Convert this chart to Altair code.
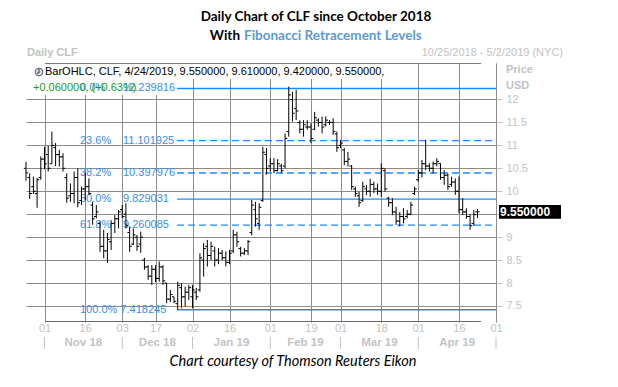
import altair as alt
import pandas as pd

# ---------------- data ----------------
dates = ["2018-10-25","2018-10-26","2018-10-29","2018-10-30","2018-10-31","2018-11-01","2018-11-02","2018-11-05","2018-11-06","2018-11-07",
         "2018-11-08","2018-11-09","2018-11-12","2018-11-13","2018-11-14","2018-11-15","2018-11-16","2018-11-19","2018-11-20","2018-11-21",
         "2018-11-23","2018-11-26","2018-11-27","2018-11-28","2018-11-29","2018-11-30","2018-12-03","2018-12-04","2018-12-06","2018-12-07",
         "2018-12-10","2018-12-11","2018-12-12","2018-12-13","2018-12-14","2018-12-17","2018-12-18","2018-12-19","2018-12-20","2018-12-21",
         "2018-12-24","2018-12-26","2018-12-27","2018-12-28","2018-12-31","2019-01-02","2019-01-03","2019-01-04","2019-01-07","2019-01-08",
         "2019-01-09","2019-01-10","2019-01-11","2019-01-14","2019-01-15","2019-01-16","2019-01-17","2019-01-18","2019-01-22","2019-01-23",
         "2019-01-24","2019-01-25","2019-01-28","2019-01-29","2019-01-30","2019-01-31","2019-02-01","2019-02-04","2019-02-05","2019-02-06",
         "2019-02-07","2019-02-08","2019-02-11","2019-02-12","2019-02-13","2019-02-14","2019-02-15","2019-02-19","2019-02-20","2019-02-21",
         "2019-02-22","2019-02-25","2019-02-26","2019-02-27","2019-02-28","2019-03-01","2019-03-04","2019-03-05","2019-03-06","2019-03-07",
         "2019-03-08","2019-03-11","2019-03-12","2019-03-13","2019-03-14","2019-03-15","2019-03-18","2019-03-19","2019-03-20","2019-03-21",
         "2019-03-22","2019-03-25","2019-03-26","2019-03-27","2019-03-28","2019-03-29","2019-04-01","2019-04-02","2019-04-03","2019-04-04",
         "2019-04-05","2019-04-08","2019-04-09","2019-04-10","2019-04-11","2019-04-12","2019-04-15","2019-04-16","2019-04-17","2019-04-18",
         "2019-04-22","2019-04-23","2019-04-24"]
future_days = ["2019-04-25","2019-04-26","2019-04-29","2019-04-30","2019-05-01"]

highs = [10.64,10.39,10.32,10.29,10.76,10.97,10.99,11.30,11.05,10.90,
         10.83,10.39,10.17,10.43,10.50,10.10,10.41,10.28,9.77,9.70,
         9.34,9.16,9.09,9.37,9.48,9.59,9.70,9.74,9.23,9.19,
         9.05,9.12,8.55,8.39,8.39,8.39,8.47,8.39,8.00,7.85,
         7.70,8.03,8.00,7.92,7.96,7.96,7.89,8.65,8.87,8.94,
         8.90,8.79,8.76,8.72,8.69,8.72,9.16,9.12,8.79,8.76,
         8.94,9.81,9.77,9.74,10.97,10.94,10.72,10.72,10.70,10.60,
         11.26,12.28,12.17,12.21,11.55,11.55,11.55,11.48,11.73,11.59,
         11.63,11.63,11.55,11.59,11.30,11.12,10.94,10.86,10.57,10.10,
         9.99,10.21,10.14,10.27,10.21,10.17,10.61,10.50,9.88,9.85,
         9.66,9.55,9.63,9.59,9.77,10.10,10.46,10.68,11.12,10.61,
         10.65,10.72,10.61,10.46,10.39,10.32,10.28,10.32,9.85,9.63,
         9.50,9.59,9.61]
lows = [10.23,9.83,9.94,9.64,10.25,10.48,10.43,10.60,10.55,10.54,
        10.43,9.75,9.77,9.74,9.65,9.70,9.81,9.92,9.27,9.41,
        8.68,8.54,8.44,8.72,9.09,9.19,9.41,9.19,8.68,8.83,
        8.70,8.66,8.29,8.07,7.96,8.02,8.03,7.96,7.56,7.59,
        7.56,7.42,7.45,7.49,7.63,7.45,7.63,7.81,8.14,8.36,
        8.50,8.36,8.41,8.50,8.36,8.41,8.65,8.79,8.58,8.61,
        8.61,9.04,9.23,9.16,9.77,10.36,10.43,10.39,10.43,10.40,
        10.50,11.19,11.52,11.55,11.26,11.19,11.34,11.05,11.34,11.41,
        11.26,11.41,11.44,11.23,10.86,10.94,10.57,10.54,10.03,9.88,
        9.66,9.77,9.92,9.88,9.96,9.92,9.88,9.99,9.66,9.48,
        9.27,9.23,9.30,9.41,9.48,9.92,10.21,10.30,10.46,10.43,
        10.39,10.54,10.25,10.14,10.03,10.10,9.92,9.52,9.48,9.40,
        9.16,9.25,9.42]
opens = [10.50,10.30,10.10,9.95,10.30,10.70,10.80,10.60,10.95,10.80,
         10.75,10.30,9.90,9.95,10.30,9.80,10.05,10.10,9.70,9.45,
         9.30,8.80,8.70,8.90,9.30,9.40,9.60,9.50,9.10,8.85,
         9.00,8.85,8.50,8.35,8.15,8.30,8.10,8.35,8.00,7.65,
         7.70,7.55,7.90,7.70,7.80,7.70,7.80,7.85,8.50,8.80,
         8.60,8.70,8.50,8.65,8.55,8.45,8.70,9.05,8.75,8.65,
         8.70,9.10,9.60,9.30,9.80,10.80,10.55,10.60,10.45,10.55,
         10.55,11.30,12.00,11.80,11.50,11.35,11.40,11.40,11.35,11.55,
         11.50,11.45,11.50,11.50,11.25,11.00,10.90,10.65,10.55,10.05,
         9.90,9.80,10.05,10.00,10.15,10.05,10.00,10.45,9.85,9.75,
         9.55,9.35,9.45,9.45,9.50,9.95,10.25,10.40,10.60,10.55,
         10.50,10.60,10.60,10.30,10.35,10.15,10.20,10.00,9.60,9.55,
         9.45,9.30,9.55]
closes = [10.40,9.95,10.00,10.25,10.70,10.60,10.50,11.00,10.80,10.75,
          10.50,9.85,9.95,10.30,9.75,10.05,10.10,9.95,9.40,9.55,
          8.80,8.70,8.95,9.30,9.40,9.55,9.45,9.25,8.80,9.05,
          8.80,9.00,8.35,8.15,8.30,8.10,8.35,8.05,7.65,7.75,
          7.60,7.95,7.70,7.80,7.90,7.85,7.70,8.55,8.75,8.60,
          8.80,8.50,8.65,8.55,8.45,8.65,9.05,8.90,8.65,8.70,
          8.90,9.70,9.40,9.65,10.85,10.50,10.60,10.45,10.60,10.45,
          11.15,12.10,11.70,11.75,11.35,11.45,11.40,11.15,11.60,11.50,
          11.40,11.55,11.50,11.30,10.95,11.05,10.65,10.70,10.10,9.95,
          9.75,10.10,10.00,10.15,10.05,10.00,10.50,10.05,9.75,9.55,
          9.35,9.45,9.40,9.50,9.70,10.05,10.40,10.60,10.55,10.50,
          10.60,10.65,10.30,10.35,10.10,10.20,10.00,9.60,9.55,9.45,
          9.25,9.49,9.55]

tick_dates = ["2018-11-01","2018-11-16","2018-12-03","2018-12-17","2019-01-02","2019-01-16",
              "2019-02-01","2019-02-19","2019-03-01","2019-03-18","2019-04-01","2019-04-16","2019-05-01"]
tick_labels = ["01","16","03","17","02","16","01","19","01","18","01","16","01"]
month_starts = ["2018-11-01","2018-12-03","2019-01-02","2019-02-01","2019-03-01","2019-04-01"]
month_ends = ["2018-12-03","2019-01-02","2019-02-01","2019-03-01","2019-04-01","2019-05-01"]
month_labels = ["Nov 18","Dec 18","Jan 19","Feb 19","Mar 19","Apr 19"]

fib_pct = ["0.0%","23.6%","38.2%","50.0%","61.8%","100.0%"]
fib_val = [12.239816,11.101925,10.397976,9.829031,9.260085,7.418245]
fib_dashed = [False,True,True,False,True,False]

price_ticks = [7.5,8,8.5,9,9.5,10,10.5,11,11.5,12]

# ---------------- derived tables ----------------
all_days = dates + future_days
tick_idx = [all_days.index(d) for d in tick_dates]
x_max = all_days.index("2019-05-01")

df = pd.DataFrame({"i": list(range(len(dates))), "open": opens, "high": highs,
                   "low": lows, "close": closes})
months = pd.DataFrame({"s": [all_days.index(d) for d in month_starts],
                       "e": [all_days.index(d) for d in month_ends],
                       "lab": month_labels})
seps = pd.DataFrame({"s": [all_days.index(d) for d in month_starts] + [all_days.index(month_ends[-1])]})
fib = pd.DataFrame({"pct": fib_pct, "val": fib_val, "dash": fib_dashed,
                    "vtxt": [f"{v:.6f}" for v in fib_val]})
fib["full"] = fib["pct"] + " " + fib["vtxt"]

last = df.iloc[-1]
prev_close = closes[-2]
chg = last["close"] - prev_close
legend_txt = (f"BarOHLC, CLF, 4/24/2019, {last['open']:.6f}, {last['high']:.6f}, "
              f"{last['low']:.6f}, {last['close']:.6f},")
chg_txt = f"{chg:+.6f}, ({chg / prev_close * 100:+.2f}%)"
lastdf = pd.DataFrame({"close": [last["close"]], "t": [f"{last['close']:.6f}"]})

# ---------------- scales / axes ----------------
GRID = "#8c8c8c"
LIGHT = "#c3c3c3"
FIB = "#1a8cff"
FIBTXT = "#3a8ee6"
FONT = "Liberation Sans"

labels_js = "[" + ",".join(f"'{t}'" for t in tick_labels) + "]"
idx_js = "[" + ",".join(str(t) for t in tick_idx) + "]"
xscale = alt.Scale(domain=[0, x_max], nice=False, zero=False)
xaxis = alt.Axis(values=tick_idx, labelExpr=f"{labels_js}[indexof({idx_js}, datum.value)]",
                 grid=True, gridColor=GRID, gridWidth=1, domain=False, ticks=False, tickSize=0,
                 labelColor=LIGHT, labelFont=FONT, labelFontSize=11, labelPadding=0,
                 labelOverlap=False, labelFlush=False, title=None)
yscale = alt.Scale(domain=[7.151, 12.795], nice=False, zero=False)
yaxis = alt.Axis(orient="right", values=price_ticks, format="~g", grid=True, gridColor=GRID,
                 gridWidth=1, domainColor=GRID, tickColor=LIGHT, tickSize=6, labelPadding=4,
                 labelColor=LIGHT, labelFont=FONT, labelFontSize=11, labelOverlap=False, title=None)


def X(f):
    return alt.X(f, scale=xscale, axis=xaxis)


def Y(f):
    return alt.Y(f, scale=yscale, axis=yaxis)


one = pd.DataFrame({"t": [""]})


def txt(text, x, y, **kw):
    return alt.Chart(pd.DataFrame({"t": [text]})).mark_text(baseline="middle", **kw).encode(
        text="t:N", x=alt.value(x), y=alt.value(y))


W, H = 470, 259

# white boxes behind legend text
bg1 = alt.Chart(one).mark_rect(color="white").encode(
    x=alt.value(0), x2=alt.value(366), y=alt.value(1), y2=alt.value(16))
bg2 = alt.Chart(one).mark_rect(color="white").encode(
    x=alt.value(0), x2=alt.value(150), y=alt.value(16), y2=alt.value(32))
top_line = alt.Chart(one).mark_rule(color="#7a7a7a").encode(
    x=alt.value(19), x2=alt.value(455), y=alt.value(0.5))
bot_line = alt.Chart(one).mark_rule(color="#6a6a6a").encode(
    x=alt.value(19), x2=alt.value(455), y=alt.value(H - 0.5))

fib_solid = alt.Chart(fib).transform_filter("!datum.dash").mark_rule(
    color=FIB, strokeWidth=1.3).encode(x=alt.value(151), x2=alt.value(W), y=Y("val:Q"))
fib_dash = alt.Chart(fib).transform_filter("datum.dash").mark_rule(
    color=FIB, strokeWidth=1.3, strokeDash=[7, 4]).encode(x=alt.value(151), x2=alt.value(W), y=Y("val:Q"))
fib_pct_t = alt.Chart(fib).transform_filter("datum.pct != '100.0%'").mark_text(
    align="left", baseline="middle", font=FONT, fontSize=11, color=FIBTXT).encode(
    x=alt.value(54), y=Y("val:Q"), text="pct:N")
fib_val_t = alt.Chart(fib).transform_filter("datum.pct != '100.0%'").mark_text(
    align="left", baseline="middle", font=FONT, fontSize=11, color=FIBTXT).encode(
    x=alt.value(97), y=Y("val:Q"), text="vtxt:N")
fib_full_t = alt.Chart(fib).transform_filter("datum.pct == '100.0%'").mark_text(
    align="left", baseline="middle", font=FONT, fontSize=11, color=FIBTXT).encode(
    x=alt.value(54), y=Y("val:Q"), text="full:N")

hl = alt.Chart(df).mark_rule(color="black", strokeWidth=1).encode(
    x=X("i:Q"), y=Y("low:Q"), y2="high:Q")
op = alt.Chart(df).transform_calculate(xo="datum.i - 0.6").mark_rule(
    color="black", strokeWidth=1).encode(x=X("xo:Q"), x2="i:Q", y=Y("open:Q"))
cl = alt.Chart(df).transform_calculate(xc="datum.i + 0.6").mark_rule(
    color="black", strokeWidth=1).encode(x=X("i:Q"), x2="xc:Q", y=Y("close:Q"))

month_t = alt.Chart(months).transform_calculate(m="(datum.s + datum.e) / 2").mark_text(
    baseline="middle", font=FONT, fontSize=11.5, fontWeight="bold", color=LIGHT).encode(
    x=X("m:Q"), y=alt.value(280), text="lab:N")
sep_r = alt.Chart(seps).mark_rule(color=LIGHT).encode(
    x=X("s:Q"), y=alt.value(274), y2=alt.value(286))

box = alt.Chart(lastdf).mark_point(
    shape="M-1,-0.22L1,-0.22L1,0.22L-1,0.22Z", filled=True, color="black", opacity=1,
    size=3844).encode(x=alt.value(504), y=Y("close:Q"))
box_t = alt.Chart(lastdf).mark_text(
    align="left", baseline="middle", font=FONT, fontSize=12, fontWeight="bold", color="white").encode(
    x=alt.value(474), y=Y("close:Q"), text="t:N")

clock = alt.Chart(one).mark_point(shape="circle", filled=True, color="#d9dde3", stroke="#55606b",
                                  strokeWidth=1, size=60, opacity=1).encode(
    x=alt.value(13), y=alt.value(9))
clock_h = alt.Chart(one).mark_rule(color="#333333", strokeWidth=1).encode(
    x=alt.value(13), y=alt.value(6), y2=alt.value(10))
clock_m = alt.Chart(one).mark_rule(color="#333333", strokeWidth=1).encode(
    x=alt.value(11), x2=alt.value(13), y=alt.value(10))

layers = [
    bg1, bg2, top_line, bot_line,
    fib_solid, fib_dash, fib_pct_t, fib_val_t, fib_full_t,
    hl, op, cl,
    month_t, sep_r,
    box, box_t,
    clock, clock_h, clock_m,
    txt(legend_txt, 19, 9, align="left", font=FONT, fontSize=11, color="black"),
    txt(chg_txt, 7, 25, align="left", font=FONT, fontSize=11, color="#229a22"),
    txt("Daily Chart of CLF since October 2018", 290, -46, align="center", font="Lato",
        fontSize=13.5, fontWeight="bold", color="black"),
    txt("With", 214, -27, align="right", font="Lato", fontSize=13.5, fontWeight="bold", color="black"),
    txt("Fibonacci Retracement Levels", 218, -27, align="left", font="Lato", fontSize=13.5,
        fontWeight="bold", color="#5b9bd5"),
    txt("Daily CLF", 1, -10, align="left", font=FONT, fontSize=11, fontWeight="bold", color=LIGHT),
    txt("10/25/2018 - 5/2/2019 (NYC)", 537, -10, align="right", font=FONT, fontSize=11, color=LIGHT),
    txt("Price", 480, 7, align="left", font=FONT, fontSize=11, fontWeight="bold", color=LIGHT),
    txt("USD", 480, 23, align="left", font=FONT, fontSize=11, fontWeight="bold", color=LIGHT),
    txt("Chart courtesy of Thomson Reuters Eikon", 267, 299, align="center", font="Lato",
        fontSize=14.5, fontStyle="italic", color="black"),
]

chart = alt.layer(*layers).properties(
    width=W, height=H,
    padding={"left": 18, "top": 55, "right": 114, "bottom": 57},
    autosize=alt.AutoSizeParams(type="none"),
    background="white",
).configure_view(stroke=None)

chart.save("out.html", embed_options={"renderer": "svg", "actions": False})
